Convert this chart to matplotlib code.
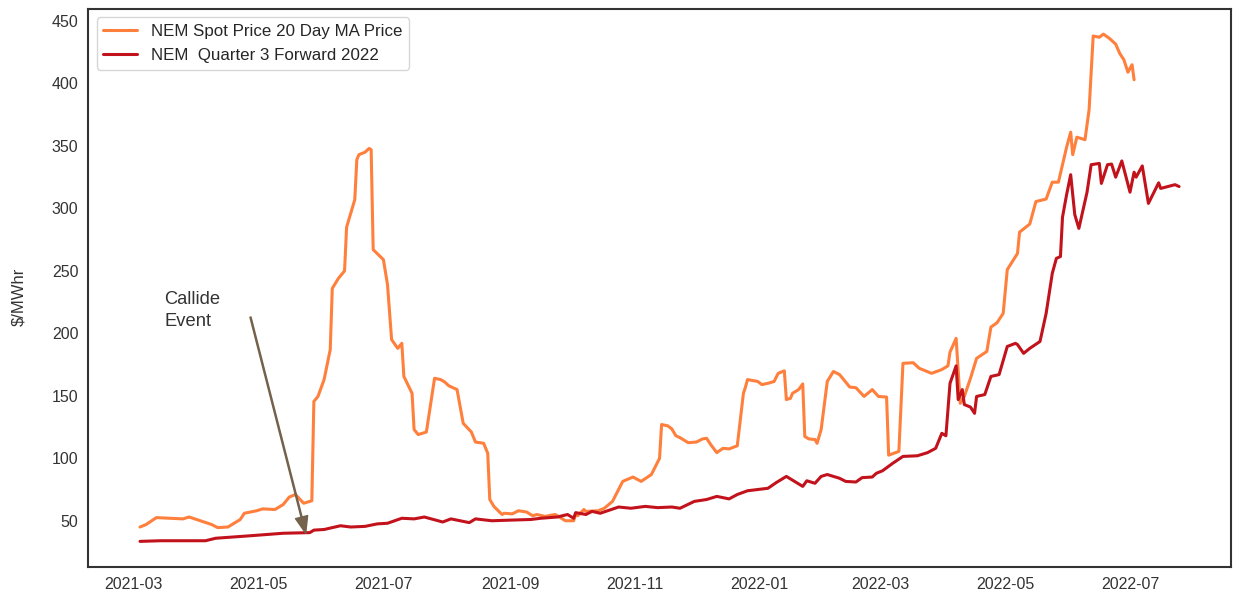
import matplotlib
matplotlib.use('Agg')
import matplotlib.pyplot as plt
import matplotlib.dates as mdates
import pandas as pd
import seaborn as sns

# NEM spot price, 20 day moving average ($/MWhr)
spot_dates = [
    '2021-03-04', '2021-03-07', '2021-03-12', '2021-03-25', '2021-03-28', '2021-04-08',
    '2021-04-11', '2021-04-16', '2021-04-22', '2021-04-24', '2021-04-30', '2021-05-03',
    '2021-05-09', '2021-05-13', '2021-05-16', '2021-05-19', '2021-05-23', '2021-05-27',
    '2021-05-28', '2021-05-30', '2021-06-02', '2021-06-05', '2021-06-06', '2021-06-09',
    '2021-06-12', '2021-06-13', '2021-06-17', '2021-06-18', '2021-06-19', '2021-06-22',
    '2021-06-24', '2021-06-25', '2021-06-26', '2021-07-01', '2021-07-03', '2021-07-05',
    '2021-07-08', '2021-07-10', '2021-07-11', '2021-07-15', '2021-07-16', '2021-07-18',
    '2021-07-22', '2021-07-26', '2021-07-29', '2021-07-31', '2021-08-02', '2021-08-06',
    '2021-08-09', '2021-08-13', '2021-08-15', '2021-08-19', '2021-08-21', '2021-08-22',
    '2021-08-24', '2021-08-28', '2021-08-29', '2021-09-02', '2021-09-05', '2021-09-09',
    '2021-09-12', '2021-09-14', '2021-09-18', '2021-09-23', '2021-09-26', '2021-09-28',
    '2021-10-02', '2021-10-03', '2021-10-04', '2021-10-07', '2021-10-08', '2021-10-14',
    '2021-10-17', '2021-10-21', '2021-10-24', '2021-10-26', '2021-10-31', '2021-11-04',
    '2021-11-09', '2021-11-13', '2021-11-14', '2021-11-17', '2021-11-19', '2021-11-21',
    '2021-11-23', '2021-11-27', '2021-12-01', '2021-12-04', '2021-12-06', '2021-12-08',
    '2021-12-11', '2021-12-14', '2021-12-17', '2021-12-21', '2021-12-24', '2021-12-25',
    '2021-12-26', '2021-12-31', '2022-01-02', '2022-01-05', '2022-01-08', '2022-01-10',
    '2022-01-13', '2022-01-14', '2022-01-16', '2022-01-17', '2022-01-20', '2022-01-22',
    '2022-01-23', '2022-01-25', '2022-01-28', '2022-01-29', '2022-01-31', '2022-02-03',
    '2022-02-06', '2022-02-09', '2022-02-14', '2022-02-17', '2022-02-21', '2022-02-25',
    '2022-02-28', '2022-03-04', '2022-03-05', '2022-03-10', '2022-03-12', '2022-03-17',
    '2022-03-20', '2022-03-26', '2022-03-31', '2022-04-03', '2022-04-04', '2022-04-07',
    '2022-04-09', '2022-04-11', '2022-04-14', '2022-04-17', '2022-04-22', '2022-04-24',
    '2022-04-27', '2022-04-30', '2022-05-02', '2022-05-07', '2022-05-08', '2022-05-13',
    '2022-05-16', '2022-05-21', '2022-05-24', '2022-05-27', '2022-05-31', '2022-06-02',
    '2022-06-03', '2022-06-05', '2022-06-09', '2022-06-11', '2022-06-13', '2022-06-16',
    '2022-06-18', '2022-06-21', '2022-06-24', '2022-06-26', '2022-06-28', '2022-06-30',
    '2022-07-01', '2022-07-02', '2022-07-03',
]
spot_price = [
    45, 47, 52.5, 51.5, 53, 47,
    44.5, 45, 51, 56, 58, 59.5,
    59, 63, 69, 71, 64, 66,
    145.5, 149.5, 163, 187, 236, 244,
    250, 285, 307, 339, 343, 345,
    348, 347, 267, 259, 239, 195,
    188, 192, 165.5, 152, 123, 119,
    121, 164, 163, 161, 158, 155,
    128, 121, 113, 112, 104, 67,
    61.5, 55, 56, 55.5, 58, 57,
    54, 55, 53.5, 55, 52, 50,
    50, 55, 54, 59, 57.5, 58,
    60, 65.5, 75, 81.5, 85, 81.5,
    87, 100, 127, 126, 123.5, 118,
    116.5, 112.5, 113, 115.5, 116, 111,
    104.5, 108, 107.5, 110, 152, 157,
    163, 161.5, 159, 160, 161.5, 168,
    170, 147, 148, 152, 155, 159.5,
    117.5, 115.5, 115, 112, 123, 161.5,
    169.5, 167, 157, 156.5, 149.5, 155,
    149.5, 149, 102.5, 105.5, 176, 176.5,
    172, 168, 171, 174, 185, 196,
    144, 149.5, 164, 180, 185.5, 205,
    208.5, 216, 251, 264, 281, 287.5,
    305.5, 307.5, 321, 321, 349, 361,
    343, 357, 355, 379, 438, 437,
    439.5, 436, 431.5, 424, 419, 409,
    412, 415, 403,
]

# NEM Quarter 3 2022 forward contract price ($/MWhr)
fwd_dates = [
    '2021-03-04', '2021-03-14', '2021-04-05', '2021-04-10', '2021-04-27', '2021-05-05',
    '2021-05-13', '2021-05-26', '2021-05-28', '2021-06-02', '2021-06-10', '2021-06-15',
    '2021-06-22', '2021-06-28', '2021-07-03', '2021-07-10', '2021-07-16', '2021-07-21',
    '2021-07-30', '2021-08-03', '2021-08-12', '2021-08-15', '2021-08-23', '2021-09-01',
    '2021-09-11', '2021-09-16', '2021-09-24', '2021-09-29', '2021-10-02', '2021-10-03',
    '2021-10-08', '2021-10-11', '2021-10-15', '2021-10-24', '2021-10-30', '2021-11-06',
    '2021-11-12', '2021-11-19', '2021-11-23', '2021-11-30', '2021-12-06', '2021-12-11',
    '2021-12-17', '2021-12-21', '2021-12-26', '2021-12-31', '2022-01-05', '2022-01-09',
    '2022-01-14', '2022-01-18', '2022-01-22', '2022-01-24', '2022-01-28', '2022-01-31',
    '2022-02-03', '2022-02-09', '2022-02-12', '2022-02-17', '2022-02-20', '2022-02-25',
    '2022-02-27', '2022-03-02', '2022-03-07', '2022-03-12', '2022-03-19', '2022-03-24',
    '2022-03-28', '2022-03-31', '2022-04-02', '2022-04-04', '2022-04-07', '2022-04-08',
    '2022-04-10', '2022-04-11', '2022-04-14', '2022-04-16', '2022-04-17', '2022-04-21',
    '2022-04-24', '2022-04-28', '2022-05-02', '2022-05-06', '2022-05-07', '2022-05-10',
    '2022-05-13', '2022-05-18', '2022-05-21', '2022-05-24', '2022-05-26', '2022-05-28',
    '2022-05-29', '2022-05-31', '2022-06-02', '2022-06-04', '2022-06-06', '2022-06-10',
    '2022-06-12', '2022-06-16', '2022-06-17', '2022-06-20', '2022-06-22', '2022-06-24',
    '2022-06-27', '2022-07-01', '2022-07-03', '2022-07-04', '2022-07-07', '2022-07-10',
    '2022-07-15', '2022-07-16', '2022-07-23', '2022-07-25',
]
fwd_price = [
    33.5, 34, 34, 36, 38, 39,
    40, 40.5, 42.5, 43, 46, 45,
    45.5, 47.5, 48, 52, 51.5, 53,
    49, 51.5, 48.5, 51.5, 50, 50.5,
    51, 52, 53, 55, 52, 56.5,
    55, 57.5, 56, 61, 60, 61.5,
    60.5, 61, 60, 65.5, 67, 69.5,
    67.5, 71, 74, 75, 76, 80.5,
    85.5, 81.5, 77.5, 82, 80, 85.5,
    87, 84, 81.5, 81, 84.5, 85,
    88, 90, 96, 101.5, 102, 104.5,
    108, 120, 118, 160, 174, 147,
    155, 143, 141, 136, 149.5, 151,
    165.5, 167, 189.5, 192, 191, 184,
    188, 193.5, 216, 248, 260, 261.5,
    293, 311, 327, 295, 284, 313,
    335, 336, 320, 335, 335.5, 325,
    338, 313, 329, 325, 334, 304,
    320.5, 316, 319, 317.5,
]

callide_text = 'Callide\nEvent'
callide_text_at = ('2021-03-16', 234)
callide_arrow_from = ('2021-04-27', 213)
callide_arrow_to = ('2021-05-24', 40)

sns.set_style('white')
plt.rcParams['font.family'] = ['Liberation Sans', 'DejaVu Sans']

fig = plt.figure(figsize=(12.35, 6.01), dpi=100)
ax = fig.add_axes([0.0713, 0.0566, 0.9255, 0.9284])

ax.plot(pd.to_datetime(spot_dates), spot_price, color='#ff7f3c', lw=2.2,
        label='NEM Spot Price 20 Day MA Price')
ax.plot(pd.to_datetime(fwd_dates), fwd_price, color='#c2121c', lw=2.2,
        label='NEM  Quarter 3 Forward 2022')

ax.text(pd.Timestamp(callide_text_at[0]), callide_text_at[1], callide_text,
        fontsize=13.2, color='#333333', va='top', ha='left', linespacing=1.4)
ax.annotate('', xy=(pd.Timestamp(callide_arrow_to[0]), callide_arrow_to[1]),
            xytext=(pd.Timestamp(callide_arrow_from[0]), callide_arrow_from[1]),
            arrowprops=dict(facecolor='#74624c', edgecolor='#74624c',
                            width=0.8, headwidth=9, headlength=12))

ax.xaxis.set_major_locator(mdates.MonthLocator(bymonth=[1, 3, 5, 7, 9, 11]))
ax.xaxis.set_major_formatter(mdates.DateFormatter('%Y-%m'))
ax.tick_params(labelsize=11.5, labelcolor='#333333')
ax.set_ylabel('\\$/MWhr', fontsize=12, color='#333333')
ax.yaxis.set_label_coords(-0.054, 0.484)
ax.set_yticks([50, 100, 150, 200, 250, 300, 350, 400, 450])
ax.set_ylim(13, 459.6)

for s in ax.spines.values():
    s.set_color('#333333')
    s.set_linewidth(1.5)

ax.legend(loc='upper left', fontsize=12.2)

fig.savefig('out.png', dpi=100)
